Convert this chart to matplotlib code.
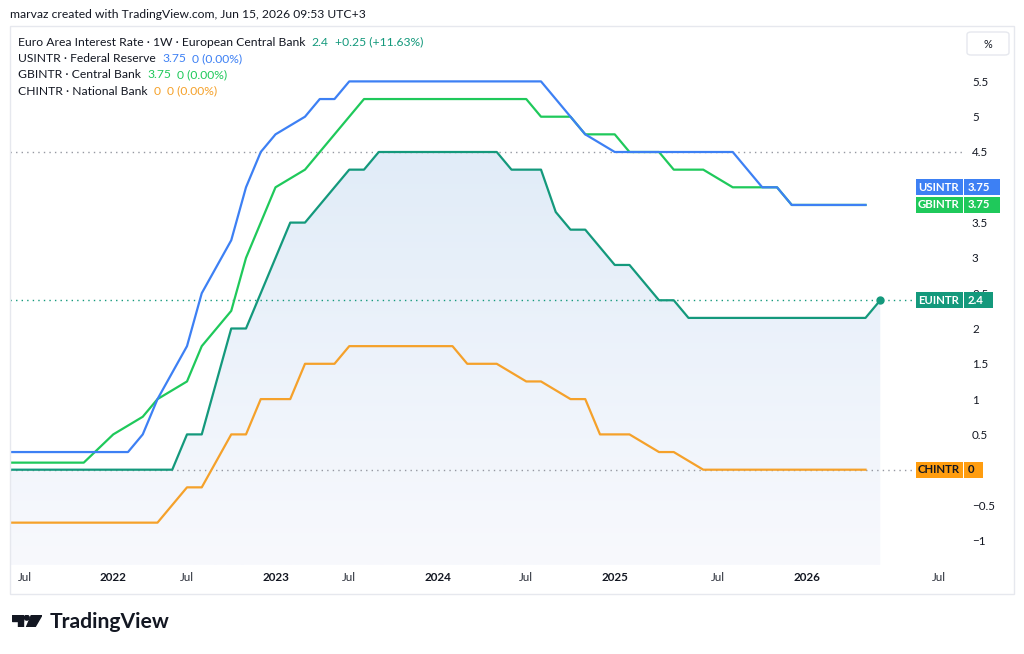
import numpy as np
import matplotlib
matplotlib.use("Agg")
from matplotlib import pyplot as plt
from matplotlib.patches import Rectangle, Polygon, FancyBboxPatch, Circle
from matplotlib.colors import LinearSegmentedColormap
import matplotlib.transforms as mtransforms

plt.rcParams['font.family'] = ['Lato', 'DejaVu Sans']

# bar index positions (TradingView spaces bars evenly, not by date)
us_x = [-8, 0, 1, 2, 4, 5, 7, 8, 9, 10, 12, 13, 14, 15, 28, 31, 33, 41, 43, 44, 45, 50]
us_y = [0.25, 0.25, 0.5, 1.0, 1.75, 2.5, 3.25, 4.0, 4.5, 4.75, 5.0, 5.25, 5.25, 5.5, 5.5, 4.75, 4.5, 4.5, 4.0, 4.0, 3.75, 3.75]

gb_x = [-8, -3, -1, 1, 2, 4, 5, 7, 8, 10, 12, 15, 16, 27, 28, 30, 31, 33, 34, 36, 37, 39, 41, 44, 45, 50]
gb_y = [0.1, 0.1, 0.5, 0.75, 1.0, 1.25, 1.75, 2.25, 3.0, 4.0, 4.25, 5.0, 5.25, 5.25, 5.0, 5.0, 4.75, 4.75, 4.5, 4.5, 4.25, 4.25, 4.0, 4.0, 3.75, 3.75]

eu_x = [-8, 3, 4, 5, 7, 8, 11, 12, 15, 16, 17, 25, 26, 28, 29, 30, 31, 33, 34, 36, 37, 38, 50, 51]
eu_y = [0, 0, 0.5, 0.5, 2.0, 2.0, 3.5, 3.5, 4.25, 4.25, 4.5, 4.5, 4.25, 4.25, 3.65, 3.4, 3.4, 2.9, 2.9, 2.4, 2.4, 2.15, 2.15, 2.4]

ch_x = [-8, 2, 4, 5, 7, 8, 9, 11, 12, 14, 15, 22, 23, 25, 27, 28, 30, 31, 32, 34, 36, 37, 39, 50]
ch_y = [-0.75, -0.75, -0.25, -0.25, 0.5, 0.5, 1.0, 1.0, 1.5, 1.5, 1.75, 1.75, 1.5, 1.5, 1.25, 1.25, 1.0, 1.0, 0.5, 0.5, 0.25, 0.25, 0, 0]

tick_pos = [-7, -1, 4, 10, 15, 21, 27, 33, 40, 46, 55]
tick_lab = ["Jul", "2022", "Jul", "2023", "Jul", "2024", "Jul", "2025", "Jul", "2026", "Jul"]
y_ticks = [-1, -0.5, 0.5, 1, 1.5, 2, 2.5, 3, 3.5, 4.5, 5, 5.5]

C_US = "#3d80f4"
C_GB = "#1fc95b"
C_EU = "#14997c"
C_CH = "#f5a12a"
TXT = "#131722"
FS = 8.7

W, H = 1024, 654
fig = plt.figure(figsize=(W / 100, H / 100), dpi=100)
fig.patch.set_facecolor("white")

x0, x1 = 10, 962
top, bot = 26, 565
ax = fig.add_axes([x0 / W, 1 - bot / H, (x1 - x0) / W, (bot - top) / H])
ax.set_facecolor("white")
for s in ax.spines.values():
    s.set_visible(False)

ylo = (469.7 - bot) / 70.6
yhi = (469.7 - top) / 70.6
xlo = -8
xhi = (962 - 128) / 14.75

# gradient fill under EU line
cmap = LinearSegmentedColormap.from_list("g", ["#f8f9fd", "#e1ecf8"])
grad = np.linspace(0, 1, 256).reshape(-1, 1)
im = ax.imshow(grad, extent=[eu_x[0], eu_x[-1], ylo, max(eu_y)], aspect="auto",
               origin="lower", cmap=cmap, zorder=1)
poly = Polygon(list(zip(eu_x, eu_y)) + [(eu_x[-1], ylo), (eu_x[0], ylo)],
               closed=True, facecolor="none", edgecolor="none")
ax.add_patch(poly)
im.set_clip_path(poly)

# dotted price lines
ax.axhline(4.5, color="#9598a1", lw=1, ls=(0, (1, 3)), zorder=2)
ax.axhline(0, color="#9598a1", lw=1, ls=(0, (1, 3)), zorder=2)
ax.axhline(2.4, color=C_EU, lw=1, ls=(0, (1, 3)), zorder=2)

ax.plot(ch_x, ch_y, color=C_CH, lw=1.6, zorder=3, solid_joinstyle="round")
ax.plot(eu_x, eu_y, color=C_EU, lw=1.6, zorder=4, solid_joinstyle="round")
ax.plot(gb_x, gb_y, color=C_GB, lw=1.6, zorder=5, solid_joinstyle="round")
ax.plot(us_x, us_y, color=C_US, lw=1.6, zorder=6, solid_joinstyle="round")
ax.plot(eu_x[-1], eu_y[-1], "o", color=C_EU, ms=5, zorder=7)

ax.set_xlim(xlo, xhi)
ax.set_ylim(ylo, yhi)

ax.yaxis.tick_right()
ax.set_yticks(y_ticks)
ax.set_yticklabels([("\u2212" + f"{abs(v):g}") if v < 0 else f"{v:g}" for v in y_ticks])
ax.tick_params(axis="y", length=0, pad=7.2, labelsize=8.4, labelcolor=TXT)
ax.set_xticks(tick_pos)
ax.set_xticklabels(tick_lab)
ax.tick_params(axis="x", length=0, pad=5.0, labelsize=8.4, labelcolor=TXT)
for t in ax.get_xticklabels():
    if t.get_text() != "Jul":
        t.set_fontweight("bold")
    else:
        t.set_color("#2a2e39")

# label boxes on the price scale
tr = mtransforms.blended_transform_factory(fig.transFigure, ax.transData)
hbox = 16 / 70.6
boxes = [("USINTR", "3.75", 4.0, C_US, "white", 1000),
         ("GBINTR", "3.75", 3.75, C_GB, "white", 1000),
         ("EUINTR", "2.4", 2.4, C_EU, "white", 993),
         ("CHINTR", "0", 0.0, "#ff9d0f", TXT, 983)]
for name, val, yv, col, tc, xr in boxes:
    ax.add_patch(Rectangle((915.5 / W, yv - hbox / 2), (963 - 915.5) / W, hbox,
                           transform=tr, facecolor=col, edgecolor="none",
                           clip_on=False, zorder=10))
    ax.add_patch(Rectangle((964 / W, yv - hbox / 2), (xr - 964) / W, hbox,
                           transform=tr, facecolor=col, edgecolor="none",
                           clip_on=False, zorder=10))
    ax.text(939 / W, yv, name, transform=tr, ha="center", va="center",
            fontsize=8.2, color=tc, fontweight="bold", zorder=11, clip_on=False)
    ax.text(968 / W, yv, val, transform=tr, ha="left", va="center",
            fontsize=8.2, color=tc, fontweight="bold", zorder=11, clip_on=False)

# frame around chart
fr = Rectangle((10 / W, 1 - 594 / H), 1004 / W, 568 / H, transform=fig.transFigure,
               facecolor="none", edgecolor="#e6e8ee", lw=1, zorder=0)
fig.patches.append(fr)

# % box
pb = FancyBboxPatch((967 / W, 1 - 55 / H), 42 / W, 23 / H, transform=fig.transFigure,
                    boxstyle="round,pad=0,rounding_size=0.004", facecolor="white",
                    edgecolor="#e6e8ee", lw=1)
fig.patches.append(pb)
fig.text(988 / W, 1 - 44 / H, "%", ha="center", va="center", fontsize=7.8, color=TXT)

# header and legend
fig.text(10 / W, 1 - 15 / H, "marvaz created with TradingView.com, Jun 15, 2026 09:53 UTC+3",
         ha="left", va="center", fontsize=FS, color=TXT)

legend_rows = [("Euro Area Interest Rate \u00b7 1W \u00b7 European Central Bank", "2.4", "+0.25 (+11.63%)", C_EU),
               ("USINTR \u00b7 Federal Reserve", "3.75", "0 (0.00%)", C_US),
               ("GBINTR \u00b7 Central Bank", "3.75", "0 (0.00%)", C_GB),
               ("CHINTR \u00b7 National Bank", "0", "0 (0.00%)", C_CH)]
for k, (lab, v, ch, col) in enumerate(legend_rows):
    yy = 1 - (42 + k * 16.4) / H
    t = fig.text(18 / W, yy, lab, ha="left", va="center", fontsize=FS, color=TXT)
    a = plt.annotate(v, xy=(1, 0.5), xycoords=t, xytext=(4.5, 0), textcoords="offset points",
                     ha="left", va="center", fontsize=FS, color=col)
    plt.annotate(ch, xy=(1, 0.5), xycoords=a, xytext=(4.5, 0), textcoords="offset points",
                 ha="left", va="center", fontsize=FS, color=col)

# TradingView logo
lax = fig.add_axes([12 / W, 1 - 627 / H, 30 / W, 12 / H])
lax.set_xlim(0, 30)
lax.set_ylim(0, 12)
lax.axis("off")
lax.add_patch(Rectangle((0, 6.5), 11, 5.5, color="#131722"))
lax.add_patch(Rectangle((6, 0), 5, 12, color="#131722"))
lax.add_patch(Circle((14.8, 9.3), 2.4, color="#131722"))
lax.add_patch(Polygon([(19.5, 12), (30, 12), (23, 0), (14.5, 0)], color="#131722"))
fig.text(50 / W, 1 - 628 / H, "TradingView", ha="left", va="baseline",
         fontsize=15.2, fontweight="bold", color="#131722")

fig.savefig("out.png", dpi=100, facecolor="white")
